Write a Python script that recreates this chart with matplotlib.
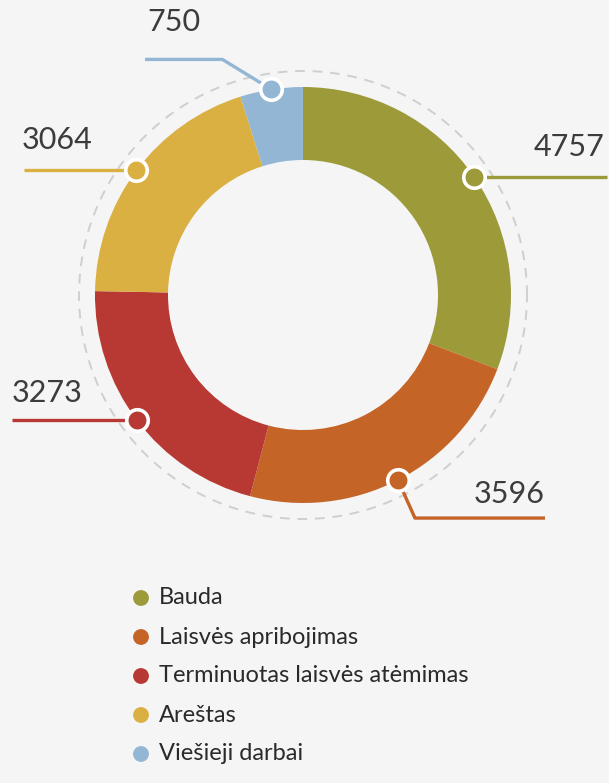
import numpy as np
import matplotlib.pyplot as plt

categories = ['Bauda', 'Laisvės apribojimas', 'Terminuotas laisvės atėmimas',
              'Areštas', 'Viešieji darbai']
values = [4757, 3596, 3273, 3064, 750]
colors = ['#9c9a39', '#c56427', '#b83833', '#dbb043', '#93b6d4']

W, H = 609, 783
bg = '#f5f5f5'
txt = '#3c3c3c'

plt.rcParams['font.family'] = ['Lato', 'DejaVu Sans']

fig = plt.figure(figsize=(W / 100, H / 100), dpi=100, facecolor=bg)
ax = fig.add_axes([0, 0, 1, 1])
ax.set_facecolor(bg)

# centre / radii in pixel units (y up)
cx, cy = 303, H - 295
r_out, r_in = 208, 135

wedges, _ = ax.pie(values, colors=colors, startangle=90, counterclock=False,
                   radius=r_out, center=(cx, cy),
                   wedgeprops=dict(width=r_out - r_in, linewidth=0))

# dashed guide ring
t = np.linspace(0, 2 * np.pi, 400)
ax.plot(cx + 224 * np.cos(t), cy + 224 * np.sin(t), color='#cfcfcf', lw=1.4,
        ls=(0, (5, 4)), zorder=1)

# leader lines: (elbow dx, elbow dy, end x, label side, label x, label dy)
leaders = [
    (None, None, 607, 'right', 605, 30),
    (17, -38, 545, 'right', 545, 24),
    (None, None, 12, 'left', 12, 27),
    (None, None, 24, 'left', 22, 30),
    (-49, 30, 145, 'left', 147, 37),
]

for w, v, c, ld in zip(wedges, values, colors, leaders):
    mid = np.deg2rad((w.theta1 + w.theta2) / 2)
    mx, my = cx + r_out * np.cos(mid), cy + r_out * np.sin(mid)
    ex, ey, endx, side, lx, ldy = ld
    xs, ys = [mx], [my]
    if ex is not None:
        xs.append(mx + ex)
        ys.append(my + ey)
    xs.append(endx)
    ys.append(ys[-1])
    ax.plot(xs, ys, color=c, lw=2.4, solid_capstyle='butt', zorder=3)
    ax.scatter([mx], [my], s=240, color=c, edgecolors='white', linewidths=2.6, zorder=4)
    ax.text(lx, ys[-1] + ldy, f'{v}', ha=side, va='center', fontsize=22,
            color=txt)

# legend
for i, (lab, c) in enumerate(zip(categories, colors)):
    y = H - (598 + 39 * i)
    ax.scatter([141], [y], s=130, color=c, edgecolors='none', zorder=4)
    ax.text(159, y, lab, ha='left', va='center', fontsize=17, color='#2a2a2a')

ax.set_xlim(0, W)
ax.set_ylim(0, H)
ax.set_aspect('equal')
ax.axis('off')

fig.savefig('out.png', dpi=100, facecolor=bg)
